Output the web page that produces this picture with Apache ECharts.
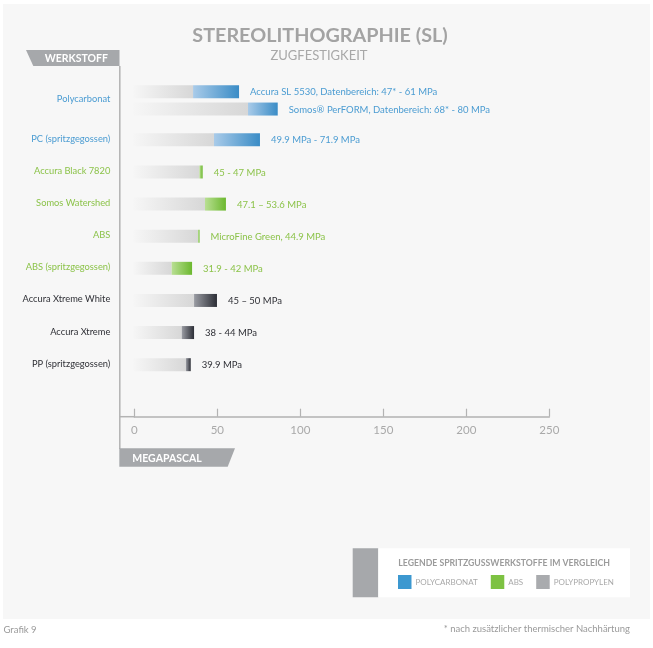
<!DOCTYPE html>
<html>
<head>
<meta charset="utf-8">
<script src="https://cdn.jsdelivr.net/npm/echarts@6/dist/echarts.min.js"></script>
<style>html,body{margin:0;padding:0;background:#fff;}#c{width:653px;height:648px;}</style>
</head>
<body>
<div id="c"></div>
<script>
// ---- data ----
const categories = ['Polycarbonat', 'PC (spritzgegossen)', 'Accura Black 7820', 'Somos Watershed', 'ABS', 'ABS (spritzgegossen)', 'Accura Xtreme White', 'Accura Xtreme', 'PP (spritzgegossen)'];
const categoryFamily = ['pc', 'pc', 'abs', 'abs', 'abs', 'abs', 'pp', 'pp', 'pp'];
const barCategory = [0, 0, 1, 2, 3, 4, 5, 6, 7, 8];
const barLow  = [35.4, 68.5, 48.0, 39.2, 42.6, 38.4, 22.5, 36.0, 28.6, 31.1];
const barHigh = [63.1, 86.4, 75.7, 41.2, 55.2, 39.0, 34.8, 49.8, 36.0, 34.0];
const barLabels = ['Accura SL 5530, Datenbereich: 47* - 61 MPa', 'Somos\u00AE PerFORM, Datenbereich: 68* - 80 MPa', '49.9 MPa - 71.9 MPa', '45 - 47 MPa', '47.1 \u2013 53.6 MPa', 'MicroFine Green, 44.9 MPa', '31.9 - 42 MPa', '45 \u2013 50 MPa', '38 - 44 MPa', '39.9 MPa'];
const xTicks = [0, 50, 100, 150, 200, 250];
const familyNames = {pc: 'POLYCARBONAT', abs: 'ABS', pp: 'POLYPROPYLEN'};
const legendTitle = 'LEGENDE SPRITZGUSSWERKSTOFFE IM VERGLEICH';
const titleText = 'STEREOLITHOGRAPHIE (SL)';
const subtitleText = 'ZUGFESTIGKEIT';
const yAxisName = 'WERKSTOFF';
const xAxisName = 'MEGAPASCAL';
const footLeft = 'Grafik 9';
const footRight = '* nach zus\u00E4tzlicher thermischer Nachh\u00E4rtung';

// ---- styles ----
const FONT = 'Lato';
const fam = {
  pc:  {text: '#4b9cd2', light: '#a9cbe9', dark: '#3a8cc6', legend: '#3c98d0'},
  abs: {text: '#8cc34a', light: '#b9df93', dark: '#6cb82f', legend: '#7dc242'},
  pp:  {text: '#2f3036', light: '#9a9ca3', dark: '#2c2e36', legend: '#a9abae'}
};

// row slot (vertical layout unit) computed from category order
function catSlot(c) { return c === 0 ? 0 : 1 + 2 * c; }
function barSlot(i) {
  const c = barCategory[i];
  let sub = 0;
  for (let k = 0; k < i; k++) if (barCategory[k] === c) sub++;
  return catSlot(c) + sub * 1.08;
}
function catLabelSlot(c) {
  const idx = [];
  barCategory.forEach((bc, i) => { if (bc === c) idx.push(barSlot(i)); });
  return (Math.min(...idx) + Math.max(...idx)) / 2;
}

const BAR_H = 13;
function renderBar(params, api) {
  const lo = api.value(0), hi = api.value(1), slot = api.value(2), idx = api.value(3);
  const f = fam[categoryFamily[barCategory[idx]]];
  const p0 = api.coord([0, slot]);
  const pl = api.coord([lo, slot]);
  const ph = api.coord([hi, slot]);
  const y = p0[1] - BAR_H / 2;
  const w2 = Math.max(ph[0] - pl[0], 1.5);
  return {
    type: 'group',
    children: [
      {type: 'rect', shape: {x: p0[0] - 1, y: y, width: pl[0] - p0[0] + 1, height: BAR_H},
       style: {fill: new echarts.graphic.LinearGradient(0, 0, 1, 0, [{offset: 0, color: '#f6f6f6'}, {offset: 1, color: '#d7d7d7'}])}},
      {type: 'rect', shape: {x: pl[0], y: y, width: w2, height: BAR_H},
       style: {fill: new echarts.graphic.LinearGradient(0, 0, 1, 0, [{offset: 0, color: f.light}, {offset: 1, color: f.dark}])}},
      {type: 'text', x: pl[0] + w2 + 11, y: p0[1] + 0.5,
       style: {text: barLabels[idx], fill: f.text, font: '9.5px ' + FONT, verticalAlign: 'middle', align: 'left'}}
    ]
  };
}
function renderCat(params, api) {
  const c = api.value(0), slot = api.value(1);
  const p = api.coord([0, slot]);
  return {type: 'text', x: p[0] - 24, y: p[1] - 1,
    style: {text: categories[c], fill: fam[categoryFamily[c]].text, font: '9.3px ' + FONT, align: 'right', verticalAlign: 'middle'}};
}

const series = ['pc', 'abs', 'pp'].map(k => ({
  name: familyNames[k],
  type: 'custom',
  renderItem: renderBar,
  itemStyle: {color: fam[k].legend},
  encode: {x: [0, 1], y: 2},
  data: barCategory.map((c, i) => [barLow[i], barHigh[i], barSlot(i), i]).filter(d => categoryFamily[barCategory[d[3]]] === k),
  z: 5
}));
series.push({
  name: 'cats', type: 'custom', renderItem: renderCat, encode: {x: -1, y: 1}, silent: true,
  data: categories.map((c, i) => [i, catLabelSlot(i)]), z: 5
});

const chart = echarts.init(document.getElementById('c'));
chart.setOption({
  animation: false,
  backgroundColor: '#ffffff',
  grid: {left: 134.3, right: 103.7, top: 68, bottom: 231.3},
  xAxis: {
    type: 'value', position: 'bottom', min: xTicks[0], max: xTicks[xTicks.length - 1], interval: xTicks[1] - xTicks[0],
    axisLine: {show: true, onZero: false, lineStyle: {color: '#b3b3b3', width: 1.5}},
    axisTick: {show: true, inside: true, length: 8, lineStyle: {color: '#b3b3b3', width: 1.2}},
    axisLabel: {color: '#a9a9a9', fontSize: 11.5, fontFamily: FONT, margin: 8},
    splitLine: {show: false}
  },
  yAxis: {type: 'value', inverse: true, min: -1.476, max: 20.24, show: false},
  legend: {
    data: ['POLYCARBONAT', 'ABS', 'POLYPROPYLEN'],
    left: 398, top: 575, icon: 'rect', itemWidth: 13.5, itemHeight: 14, itemGap: 13,
    selectedMode: false, padding: 0,
    textStyle: {color: '#a9a9a9', fontSize: 8, fontFamily: FONT, padding: [0, 0, 0, -1]}
  },
  graphic: [
    {type: 'rect', z: -10, shape: {x: 3, y: 4, width: 647, height: 615}, style: {fill: '#f7f7f7'}, silent: true},
    {type: 'text', x: 320, y: 35.5, style: {text: titleText, fill: '#a3a3a3', font: 'bold 19.8px ' + FONT, align: 'center', verticalAlign: 'middle'}},
    {type: 'text', x: 319, y: 55.5, style: {text: subtitleText, fill: '#a8a8a8', font: '13px ' + FONT, align: 'center', verticalAlign: 'middle'}},
    {type: 'polygon', shape: {points: [[26, 50], [119.5, 50], [119.5, 66], [33.3, 66]]}, style: {fill: '#a6a8ab'}},
    {type: 'text', x: 76.3, y: 58.3, style: {text: yAxisName, fill: '#ffffff', font: 'bold 10.5px ' + FONT, align: 'center', verticalAlign: 'middle'}},
    {type: 'line', shape: {x1: 119.8, y1: 66, x2: 119.8, y2: 449}, style: {stroke: '#b3b3b3', lineWidth: 1.5}},
    {type: 'line', shape: {x1: 119.8, y1: 416.7, x2: 135, y2: 416.7}, style: {stroke: '#b3b3b3', lineWidth: 1.5}},
    {type: 'polygon', shape: {points: [[119.3, 448.3], [235, 448.3], [227.7, 466.7], [119.3, 466.7]]}, style: {fill: '#a6a8ab'}},
    {type: 'text', x: 132.3, y: 458.5, style: {text: xAxisName, fill: '#ffffff', font: 'bold 10.5px ' + FONT, align: 'left', verticalAlign: 'middle'}},
    {type: 'rect', shape: {x: 352.7, y: 548.3, width: 25.6, height: 49}, style: {fill: '#a6a8ab'}},
    {type: 'rect', shape: {x: 378.3, y: 548.3, width: 251.7, height: 49}, style: {fill: '#ffffff'}},
    {type: 'text', x: 398.3, y: 563.3, style: {text: legendTitle, fill: '#9b9b9b', font: 'bold 8.7px ' + FONT, align: 'left', verticalAlign: 'middle'}},
    {type: 'text', x: 3.5, y: 629.5, style: {text: footLeft, fill: '#9a9a9a', font: '9.5px ' + FONT, align: 'left', verticalAlign: 'middle'}},
    {type: 'text', x: 630, y: 628.5, style: {text: footRight, fill: '#9a9a9a', font: '9.5px ' + FONT, align: 'right', verticalAlign: 'middle'}}
  ],
  series: series
});
</script>
</body>
</html>
